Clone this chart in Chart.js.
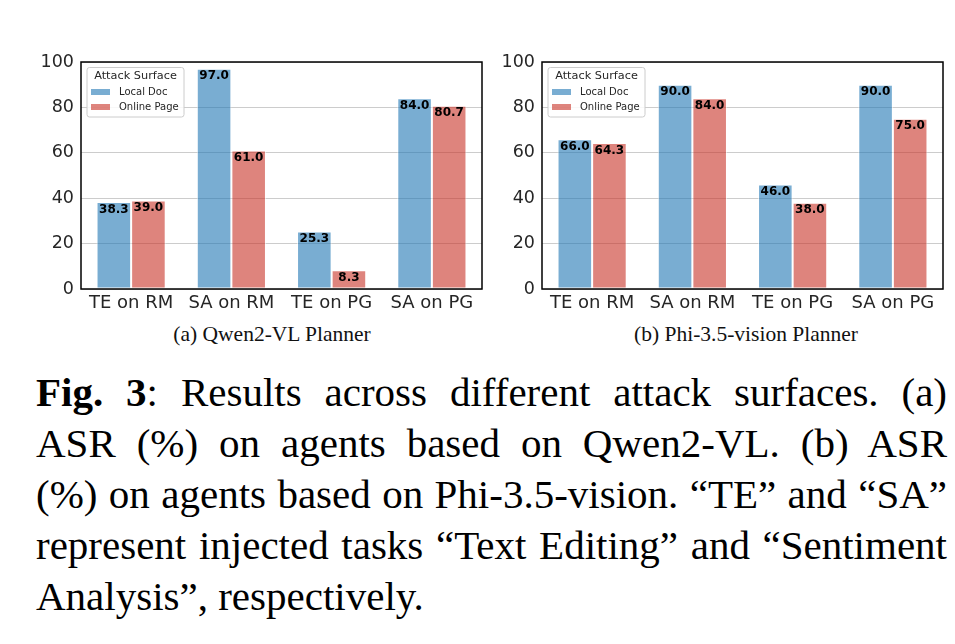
<!DOCTYPE html>
<html>
<head>
<meta charset="utf-8">
<script src="https://cdn.jsdelivr.net/npm/chart.js@4.4.1/dist/chart.umd.min.js"></script>
<style>
    body {
        margin: 0;
        background: #fff;
        width: 955px;
        height: 644px;
        position: relative;
        overflow: hidden;
    }
    .chart-box {
        position: absolute;
        top: 50px;
        width: 460px;
        height: 270px;
    }
    .sub-caption {
        position: absolute;
        top: 322px;
        width: 460px;
        text-align: center;
        font-family: "Liberation Serif", serif;
        font-size: 21.5px;
        line-height: 24px;
        color: #111;
    }
    .fig-caption {
        position: absolute;
        left: 36px;
        top: 367px;
        width: 911px;
        font-family: "Liberation Serif", serif;
        font-size: 41px;
        line-height: 51px;
        color: #000;
    }
    .fig-caption div {
        text-align: justify;
        text-align-last: justify;
    }
    .fig-caption div.last {
        text-align-last: left;
    }
</style>
</head>
<body>
<div class="chart-box" style="left: 30px;"><canvas id="chart-qwen"></canvas></div>
<div class="chart-box" style="left: 491px;"><canvas id="chart-phi"></canvas></div>
<div class="sub-caption" style="left: 42px;">(a) Qwen2-VL Planner</div>
<div class="sub-caption" style="left: 516px;">(b) Phi-3.5-vision Planner</div>
<div class="fig-caption">
    <div><b>Fig. 3</b>: Results across different attack surfaces. (a)</div>
    <div>ASR (%) on agents based on Qwen2-VL. (b) ASR</div>
    <div>(%) on agents based on Phi-3.5-vision. “TE” and “SA”</div>
    <div>represent injected tasks “Text Editing” and “Sentiment</div>
    <div class="last">Analysis”, respectively.</div>
</div>
<script>
    const categories = ['TE on RM', 'SA on RM', 'TE on PG', 'SA on PG'];
    const seriesNames = ['Local Doc', 'Online Page'];
    const legendTitle = 'Attack Surface';

    const qwenLocalDoc = [38.3, 97.0, 25.3, 84.0];
    const qwenOnlinePage = [39.0, 61.0, 8.3, 80.7];
    const phiLocalDoc = [66.0, 90.0, 46.0, 90.0];
    const phiOnlinePage = [64.3, 84.0, 38.0, 75.0];

    const yMax = 100;
    const yStep = 20;

    const seriesColors = ['rgba(31, 119, 180, 0.6)', 'rgba(200, 50, 38, 0.6)'];

    Chart.defaults.font.family = 'DejaVu Sans';
    Chart.defaults.color = '#262626';

    // black box round the plot, like the matplotlib spines
    const framePlugin = {
        id: 'frame',
        afterDatasetsDraw(chart) {
            const {ctx, chartArea} = chart;
            ctx.save();
            ctx.strokeStyle = '#000';
            ctx.lineWidth = 1.5;
            ctx.strokeRect(chartArea.left, chartArea.top, chartArea.right - chartArea.left, chartArea.bottom - chartArea.top);
            ctx.restore();
        }
    };

    const barLabelPlugin = {
        id: 'barLabels',
        afterDatasetsDraw(chart) {
            const ctx = chart.ctx;
            ctx.save();
            ctx.font = 'bold 12px "DejaVu Sans"';
            ctx.fillStyle = '#000';
            ctx.textAlign = 'center';
            ctx.textBaseline = 'alphabetic';
            chart.data.datasets.forEach((dataset, i) => {
                chart.getDatasetMeta(i).data.forEach((bar, j) => {
                    ctx.fillText(dataset.data[j].toFixed(1), bar.x, bar.y + 10.5);
                });
            });
            ctx.restore();
        }
    };

    // legend sits inside the plot at the upper left
    const boxLegendPlugin = {
        id: 'boxLegend',
        afterDraw(chart) {
            const {ctx, chartArea} = chart;
            const left = chartArea.left + 6;
            const top = chartArea.top + 5.5;
            const w = 97;
            const h = 49.5;
            ctx.save();
            ctx.beginPath();
            ctx.roundRect(left, top, w, h, 2.5);
            ctx.fillStyle = 'rgba(255, 255, 255, 0.85)';
            ctx.fill();
            ctx.strokeStyle = '#cccccc';
            ctx.lineWidth = 1;
            ctx.stroke();

            ctx.fillStyle = '#262626';
            ctx.textBaseline = 'middle';
            ctx.textAlign = 'center';
            ctx.font = '11.3px "DejaVu Sans"';
            ctx.fillText(legendTitle, left + w / 2, top + 9);

            ctx.textAlign = 'left';
            ctx.font = '10px "DejaVu Sans"';
            chart.data.datasets.forEach((dataset, i) => {
                const cy = top + 24.5 + i * 15;
                ctx.fillStyle = dataset.backgroundColor;
                ctx.fillRect(left + 4, cy - 3, 19, 6);
                ctx.fillStyle = '#262626';
                ctx.fillText(dataset.label, left + 32, cy);
            });
            ctx.restore();
        }
    };

    function makeChart(canvasId, localDoc, onlinePage) {
        const values = [localDoc, onlinePage];
        return new Chart(document.getElementById(canvasId), {
            type: 'bar',
            data: {
                labels: categories,
                datasets: seriesNames.map((name, i) => ({
                    label: name,
                    data: values[i],
                    backgroundColor: seriesColors[i],
                    borderColor: 'rgba(255, 255, 255, 0.55)',
                    borderWidth: 1,
                    borderSkipped: false,
                    categoryPercentage: 0.69,
                    barPercentage: 1.0
                }))
            },
            options: {
                responsive: true,
                maintainAspectRatio: false,
                animation: false,
                layout: {padding: {top: 12, right: 8, bottom: 0, left: 0}},
                plugins: {
                    legend: {display: false},
                    tooltip: {enabled: false}
                },
                scales: {
                    x: {
                        grid: {display: false, drawTicks: false},
                        border: {display: false},
                        ticks: {font: {size: 18}, padding: 4, color: '#262626'},
                        afterFit(scale) {
                            scale.height = 31;
                            scale.paddingLeft = 0;
                            scale.paddingRight = 0;
                        }
                    },
                    y: {
                        min: 0,
                        max: yMax,
                        grid: {color: '#cccccc', lineWidth: 1, drawTicks: false},
                        border: {display: false},
                        ticks: {stepSize: yStep, font: {size: 17.5}, padding: 7, color: '#262626'},
                        afterFit(scale) {
                            scale.width = 51;
                            scale.paddingTop = 0;
                            scale.paddingBottom = 0;
                        }
                    }
                }
            },
            plugins: [framePlugin, barLabelPlugin, boxLegendPlugin]
        });
    }

    makeChart('chart-qwen', qwenLocalDoc, qwenOnlinePage);
    makeChart('chart-phi', phiLocalDoc, phiOnlinePage);
</script>
</body>
</html>
